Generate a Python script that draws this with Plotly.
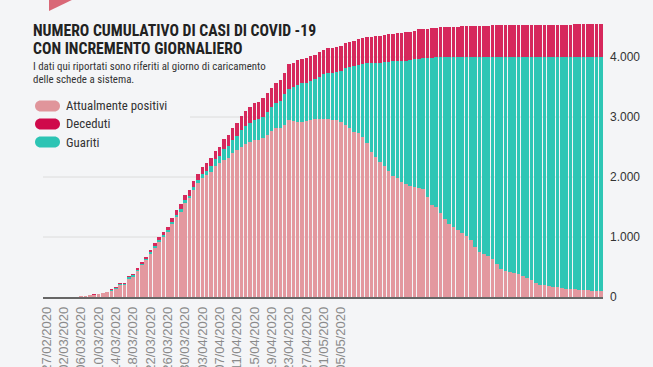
import plotly.graph_objects as go
from datetime import date, timedelta

# ---------------- data ----------------
START = date(2020, 2, 27)
N_DAYS = 129
DATES = [(START + timedelta(days=i)).strftime("%d/%m/%Y") for i in range(N_DAYS)]

TICK_LABELS = ["27/02/2020", "02/03/2020", "06/03/2020", "10/03/2020", "14/03/2020",
               "18/03/2020", "22/03/2020", "26/03/2020", "30/03/2020", "03/04/2020",
               "07/04/2020", "11/04/2020", "15/04/2020", "19/04/2020", "23/04/2020",
               "27/04/2020", "01/05/2020", "05/05/2020"]

POSITIVI = [0, 0, 0, 0, 0, 0, 0, 0,
            15, 17, 34, 36, 48, 64, 80, 100, 135, 200,               # 8-17
            200, 305, 335, 430, 530, 610, 712, 821, 916, 1004,       # 18-27
            1081, 1218, 1335, 1422, 1570, 1643, 1787, 1894, 1990, 2034,  # 28-37
            2089, 2184, 2228, 2285, 2311, 2395, 2450, 2506, 2550, 2589,  # 38-47
            2617, 2617, 2644, 2700, 2760, 2811, 2822, 2867, 2950, 2939,  # 48-57
            2922, 2922, 2930, 2945, 2961, 2961, 2961, 2961, 2950, 2950,  # 58-67
            2922, 2867, 2811, 2756, 2728, 2672, 2561, 2422, 2335, 2256,  # 68-77
            2178, 2098, 2022, 1978, 1922, 1889, 1848, 1834, 1816, 1800,  # 78-87
            1672, 1533, 1500, 1395, 1292, 1222, 1172, 1125, 1061, 1025,  # 88-97
            955, 839, 756, 722, 690, 640, 550, 460, 440, 422,            # 98-107
            400, 385, 355, 311, 290, 228, 205, 200, 185, 172,            # 108-117
            161, 150, 140, 130, 128, 125, 120, 115, 108, 106,            # 118-127
            105]                                                          # 128

GUARITI = [0] * 14 + [
            2, 20, 22, 23, 24, 25, 26, 27, 28, 29,                       # 14-23
            30, 31, 32, 33, 35, 38, 40, 42, 45, 48,                      # 24-33
            52, 56, 67, 72, 94, 111, 128, 183, 211, 225,                 # 34-43
            240, 280, 300, 317, 333, 344, 362, 389, 400, 428,            # 44-53
            445, 517, 525, 556, 612, 639, 645, 655, 667, 711,            # 54-63
            750, 767, 782, 800, 850, 944, 1017, 1094, 1144, 1212,        # 64-73
            1334, 1475, 1564, 1650, 1739, 1825, 1906, 1952, 2012, 2050,  # 74-83
            2097, 2127, 2159, 2178, 2308, 2456, 2493, 2600, 2704, 2775,  # 84-93
            2826, 2873, 2938, 2974, 3045, 3161, 3244, 3278, 3311, 3361,  # 94-103
            3451, 3541, 3562, 3580, 3602, 3617, 3647, 3691, 3712, 3776,  # 104-113
            3799, 3804, 3820, 3833, 3844, 3855, 3865, 3875, 3878, 3881,  # 114-123
            3886, 3891, 3898, 3900, 3901]                                # 124-128

DECEDUTI = [0] * 8 + [
            3, 4, 5, 6, 7, 8, 9, 10, 12, 13,                             # 8-17
            14, 16, 18, 26, 30, 36, 42, 45, 48, 52,                      # 18-27
            56, 66, 74, 80, 86, 92, 100, 108, 115, 122,                  # 28-37
            128, 140, 150, 162, 178, 192, 210, 228, 248, 266,            # 38-47
            282, 295, 305, 315, 325, 335, 345, 355, 405, 407,            # 48-57
            408, 409, 410, 411, 412, 413, 414, 415, 416, 417,            # 58-67
            418, 419, 420, 422, 425, 440, 442, 444, 450, 452,            # 68-77
            455, 456, 458, 462, 466, 470, 474, 480, 484, 490,            # 78-87
            495, 496, 497, 498, 499, 505, 507, 509, 510, 511,            # 88-97
            515, 518, 520, 522, 524, 525, 526, 527, 527, 528,            # 98-107
            528, 529, 529, 530, 530, 531, 532, 533, 533, 534,            # 108-117
            534, 535, 535, 535, 536, 536, 536, 537, 537, 537,            # 118-127
            538]                                                          # 128

Y_TICKS = [0, 1000, 2000, 3000, 4000]

SERIES = [("Attualmente positivi", POSITIVI, "#E3989F", "#E0959B"),
          ("Guariti", GUARITI, "#2EC6B5", "#2CC4B4"),
          ("Deceduti", DECEDUTI, "#D6285C", "#CF0A4B")]

assert len(POSITIVI) == N_DAYS and len(GUARITI) == N_DAYS and len(DECEDUTI) == N_DAYS

# ---------------- geometry (pixels) ----------------
W, H = 653, 367
L, R, T, B = 43, 50, 15, 70
PW, PH = W - L - R, H - T - B
BG = "#F4F5F7"

def px(xp):
    return (xp - L) / PW

def py(yp):
    return (H - B - yp) / PH

fig = go.Figure()
for name, vals, col, _ in SERIES:
    fig.add_trace(go.Bar(x=DATES, y=vals, name=name, marker=dict(color=col, line=dict(width=0)),
                         showlegend=False, hoverinfo="skip"))

shapes = []
# gridlines (partly hidden behind the title / legend block)
grid_start_px = {1000: 43, 2000: 43, 3000: 190, 4000: 318}
for v in Y_TICKS[1:]:
    shapes.append(dict(type="line", xref="x domain", yref="y", layer="below",
                       x0=px(grid_start_px[v]), x1=1, y0=v, y1=v,
                       line=dict(color="#DCDCDC", width=1)))

# decorative triangle at top
shapes.append(dict(type="path", xref="paper", yref="paper", layer="above",
                   path=f"M {px(49):.5f},{py(-2):.5f} L {px(76):.5f},{py(-2):.5f} L {px(49):.5f},{py(11):.5f} Z",
                   fillcolor="#D96877", line=dict(width=0)))

# legend pills (rounded rects) built in pixel space and converted to paper
def pill_path(cx, cy, w=25.0, h=11.0):
    r = h / 2
    k = r * 0.5523
    xl, xr = cx - w / 2 + r, cx + w / 2 - r
    pts = [("M", [(xl, cy - r)]), ("L", [(xr, cy - r)]),
           ("C", [(xr + k, cy - r), (xr + r, cy - k), (xr + r, cy)]),
           ("C", [(xr + r, cy + k), (xr + k, cy + r), (xr, cy + r)]),
           ("L", [(xl, cy + r)]),
           ("C", [(xl - k, cy + r), (xl - r, cy + k), (xl - r, cy)]),
           ("C", [(xl - r, cy - k), (xl - k, cy - r), (xl, cy - r)])]
    out = []
    for cmd, ps in pts:
        out.append(cmd + " " + " ".join(f"{px(a):.5f},{py(b):.5f}" for a, b in ps))
    return " ".join(out) + " Z"

legend_rows = [(SERIES[0], 106), (SERIES[2], 124), (SERIES[1], 142)]
annotations = []
FONT_N = "Roboto Condensed, DejaVu Sans Condensed, Liberation Sans"
for (name, _, _, pcol), ypix in legend_rows:
    shapes.append(dict(type="path", xref="paper", yref="paper", path=pill_path(47.5, ypix),
                       fillcolor=pcol, line=dict(width=0), layer="above"))
    annotations.append(dict(x=px(64), y=py(ypix), xref="paper", yref="paper", text=name,
                            showarrow=False, xanchor="left", yanchor="middle",
                            font=dict(family=FONT_N, size=12.8, color="#333333")))

title_font = dict(family=FONT_N, size=15.7, color="#222222", weight="bold")
annotations.append(dict(x=px(31), y=py(31), xref="paper", yref="paper",
                        text="NUMERO CUMULATIVO DI CASI DI COVID -19", showarrow=False,
                        xanchor="left", yanchor="middle", font=title_font))
annotations.append(dict(x=px(31), y=py(48), xref="paper", yref="paper",
                        text="CON INCREMENTO GIORNALIERO", showarrow=False,
                        xanchor="left", yanchor="middle", font=title_font))
sub_font = dict(family=FONT_N, size=10.9, color="#333333")
annotations.append(dict(x=px(31), y=py(66), xref="paper", yref="paper",
                        text="I dati qui riportati sono riferiti al giorno di caricamento", showarrow=False,
                        xanchor="left", yanchor="middle", font=sub_font))
annotations.append(dict(x=px(31), y=py(79), xref="paper", yref="paper",
                        text="delle schede a sistema.", showarrow=False,
                        xanchor="left", yanchor="middle", font=sub_font))

fig.update_layout(
    width=W, height=H,
    margin=dict(l=L, r=R, t=T, b=B, pad=0),
    paper_bgcolor=BG, plot_bgcolor=BG,
    barmode="stack", bargap=0.18,
    separators=",.",
    shapes=shapes, annotations=annotations,
    showlegend=False,
    xaxis=dict(type="category", range=[-0.8, N_DAYS - 0.5], tickmode="array",
               tickvals=TICK_LABELS, ticktext=TICK_LABELS, tickangle=-90,
               tickfont=dict(family="Liberation Sans", size=13, color="#8A8A8A"),
               showgrid=False, showline=True, linecolor="#666666", linewidth=1.5,
               ticks="", zeroline=False, automargin=False, ticklabelstandoff=3),
    yaxis=dict(side="right", range=[0, 4700], tickmode="array", tickvals=Y_TICKS,
               tickformat=",d", showgrid=False,
               zeroline=False, showline=False, ticks="", ticklabelstandoff=6, automargin=False,
               tickfont=dict(family="Liberation Sans", size=12, color="#333333")),
)

fig.write_html("out.html", config={"displayModeBar": False, "staticPlot": True},
               post_script="document.body.style.margin='0';document.body.style.background='" + BG + "';")
